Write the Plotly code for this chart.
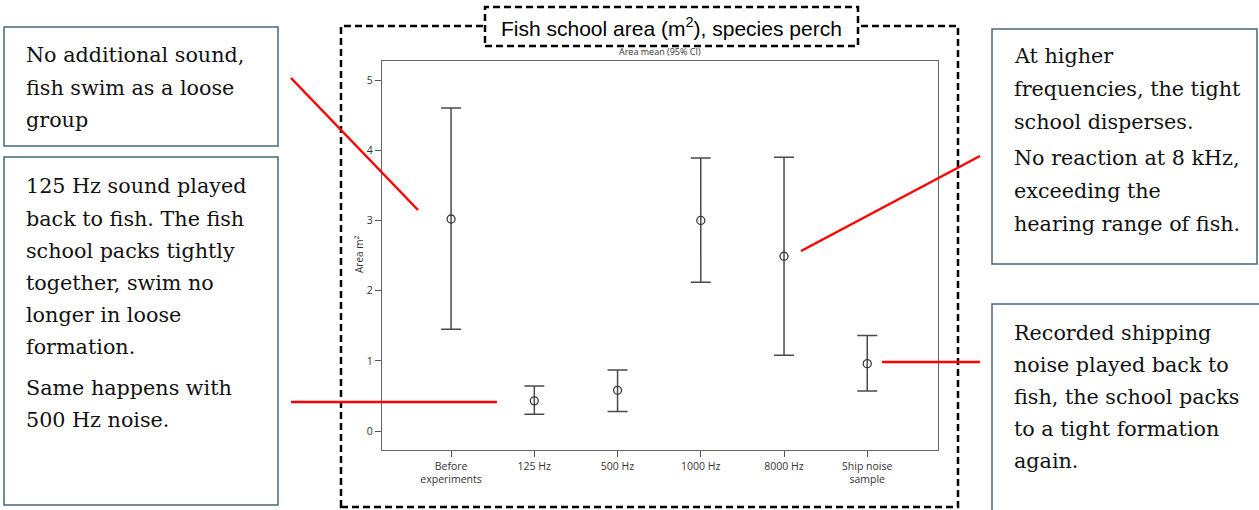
import plotly.graph_objects as go

W, H = 1259, 510

# ---------------- data ----------------
categories = ["Before<br>experiments", "125 Hz", "500 Hz", "1000 Hz", "8000 Hz", "Ship noise<br>sample"]
area_mean = [3.02, 0.43, 0.58, 3.00, 2.49, 0.96]
ci_upper = [4.60, 0.64, 0.87, 3.89, 3.90, 1.36]
ci_lower = [1.45, 0.24, 0.28, 2.12, 1.08, 0.57]
y_ticks = [0, 1, 2, 3, 4, 5]

box_left_top = ["No additional sound,", "fish swim as a loose", "group"]
box_left_bottom = ["125 Hz sound played", "back to fish. The fish", "school packs tightly",
                   "together, swim no", "longer in loose", "formation.",
                   "Same happens with", "500 Hz noise."]
box_right_top = ["At higher", "frequencies, the tight", "school disperses.",
                 "No reaction at 8 kHz,", "exceeding the", "hearing range of fish."]
box_right_bottom = ["Recorded shipping", "noise played back to", "fish, the school packs",
                    "to a tight formation", "again."]


def PX(x):
    return x / W


def PY(y):
    return 1 - y / H


fig = go.Figure()
fig.add_trace(go.Scatter(
    x=categories, y=area_mean, mode="markers",
    marker=dict(symbol="circle-open", size=8, color="#3a3a3a", line=dict(width=1.3)),
    error_y=dict(type="data", symmetric=False,
                 array=[u - m for u, m in zip(ci_upper, area_mean)],
                 arrayminus=[m - l for m, l in zip(area_mean, ci_lower)],
                 color="#4a4a4a", thickness=1.5, width=10),
    showlegend=False, hoverinfo="skip",
))

axis_font = dict(family="Open Sans", size=10.5, color="#333333")
fig.update_layout(
    width=W, height=H, autosize=False,
    margin=dict(l=0, r=0, t=0, b=0, pad=0),
    paper_bgcolor="white", plot_bgcolor="white",
    xaxis=dict(domain=[PX(382), PX(938)], range=[-0.83, 5.85], type="category",
               showgrid=False, zeroline=False, showline=True, mirror=True,
               linecolor="#666666", linewidth=1.3, ticks="outside", ticklen=6,
               tickcolor="#555555", tickwidth=1.2, tickfont=axis_font),
    yaxis=dict(domain=[PY(450), PY(60.7)], range=[-0.27, 5.275],
               tickvals=y_ticks, showgrid=False, zeroline=False, showline=True, mirror=True,
               linecolor="#666666", linewidth=1.3, ticks="outside", ticklen=6,
               tickcolor="#555555", tickwidth=1.2, tickfont=axis_font),
)

shapes = []
dash = "7px,4px"
# outer dashed frame and title box
shapes.append(dict(type="rect", xref="paper", yref="paper", x0=PX(341), x1=PX(958), y0=PY(507), y1=PY(26),
                   line=dict(color="black", width=2.5, dash=dash), fillcolor="rgba(0,0,0,0)"))
shapes.append(dict(type="rect", xref="paper", yref="paper", x0=PX(485), x1=PX(858), y0=PY(46), y1=PY(7),
                   line=dict(color="black", width=2.5, dash=dash), fillcolor="white"))
# text boxes
box_col = "#46697a"
for (x0, y0, x1, y1) in [(4, 27, 278, 146), (4, 157, 278, 505), (992, 29, 1257, 264), (992, 304, 1265, 520)]:
    shapes.append(dict(type="rect", xref="paper", yref="paper", x0=PX(x0), x1=PX(x1), y0=PY(y1), y1=PY(y0),
                       line=dict(color=box_col, width=1.5), fillcolor="rgba(0,0,0,0)"))
# red callout lines
for (x0, y0, x1, y1) in [(291, 78, 418, 210), (291, 402, 497, 402), (801, 251, 980, 156), (882, 362, 980, 362)]:
    shapes.append(dict(type="line", xref="paper", yref="paper", x0=PX(x0), y0=PY(y0), x1=PX(x1), y1=PY(y1),
                       line=dict(color="#ff0000", width=2.5)))
fig.update_layout(shapes=shapes)

ann = []
ann.append(dict(text="Fish school area (m<sup>2</sup>), species perch", x=PX(671.5), y=PY(27),
                xref="paper", yref="paper", xanchor="center", yanchor="middle", showarrow=False,
                font=dict(family="Liberation Sans", size=21, color="black")))
ann.append(dict(text="Area mean (95% CI)", x=PX(660), y=PY(52), xref="paper", yref="paper",
                xanchor="center", yanchor="middle", showarrow=False,
                font=dict(family="Open Sans", size=9, color="#333333")))
ann.append(dict(text="Area m<sup>2</sup>", x=PX(359), y=PY(255), xref="paper", yref="paper",
                xanchor="center", yanchor="middle", showarrow=False, textangle=-90,
                font=dict(family="Open Sans", size=10, color="#333333")))

serif = dict(family="DejaVu Serif", size=20.7, color="#111111")


def add_lines(lines, x, centers):
    for t, yc in zip(lines, centers):
        ann.append(dict(text=t, x=PX(x), y=PY(yc), xref="paper", yref="paper",
                        xanchor="left", yanchor="middle", showarrow=False, font=serif))


add_lines(box_left_top, 24, [55, 88, 120])
add_lines(box_left_bottom, 24, [186, 219, 251, 283, 315, 347, 388, 420])
add_lines(box_right_top, 1012, [56, 89, 122, 158, 191, 224])
add_lines(box_right_bottom, 1012, [333, 365, 397, 429, 461])
fig.update_layout(annotations=ann)

fig.write_html("out.html")
